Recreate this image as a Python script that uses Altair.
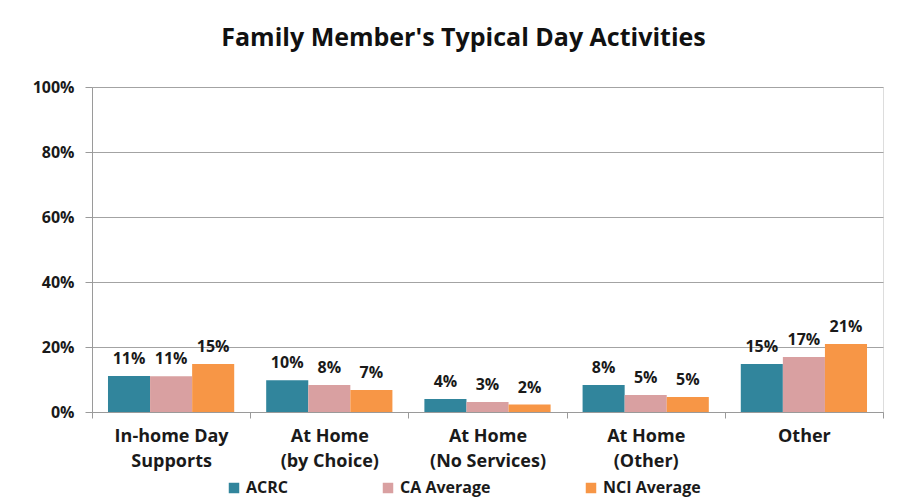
import altair as alt
import pandas as pd

categories = ["In-home Day\nSupports", "At Home\n(by Choice)", "At Home\n(No Services)", "At Home\n(Other)", "Other"]
series = ["ACRC", "CA Average", "NCI Average"]
acrc = [0.111, 0.098, 0.040, 0.083, 0.148]
ca_avg = [0.110, 0.083, 0.031, 0.052, 0.169]
nci_avg = [0.148, 0.068, 0.023, 0.046, 0.209]
colors = ["#31859C", "#D9A0A1", "#F79646"]

rows = []
for s, vals in zip(series, [acrc, ca_avg, nci_avg]):
    for c, v in zip(categories, vals):
        rows.append({"category": c, "series": s, "value": v})
df = pd.DataFrame(rows)

FONT = "Open Sans"

x = alt.X("category:N", sort=categories, title=None,
          scale=alt.Scale(paddingInner=0, paddingOuter=0),
          axis=alt.Axis(labelExpr="split(datum.label, '\\n')", labelAngle=0,
                        labelFont=FONT, labelFontWeight="bold", labelFontSize=18,
                        labelColor="#1a1a1a", labelLineHeight=25, labelPadding=9,
                        tickBand="extent", tickSize=6, tickColor="#9a9a9a",
                        domainColor="#9a9a9a", labelBaseline="top"))
xo = alt.XOffset("series:N", sort=series, scale=alt.Scale(paddingInner=0, paddingOuter=0.38))
y = alt.Y("value:Q", title=None,
          scale=alt.Scale(domain=[0, 1]),
          axis=alt.Axis(values=[0, 0.2, 0.4, 0.6, 0.8, 1.0], format=".0%",
                        labelFont=FONT, labelFontWeight="bold", labelFontSize=16,
                        labelColor="#1a1a1a", tickSize=7, tickColor="#9a9a9a",
                        labelPadding=11, gridColor="#a3a3a3", domainColor="#9a9a9a"))

base = alt.Chart(df)
bars = base.mark_bar().encode(
    x=x, xOffset=xo, y=y,
    color=alt.Color("series:N", sort=series, title=None,
                    scale=alt.Scale(domain=series, range=colors),
                    legend=alt.Legend(orient="none", legendX=134, legendY=393,
                                      direction="horizontal", symbolType="square",
                                      symbolSize=110, symbolStrokeWidth=0,
                                      labelFont=FONT, labelFontWeight="bold",
                                      labelFontSize=16, labelColor="#1a1a1a",
                                      columnPadding=92, symbolOpacity=1)),
)
labels = base.mark_text(dy=-9, baseline="bottom", font=FONT, fontWeight="bold",
                        fontSize=16, color="#1a1a1a").encode(
    x=x, xOffset=xo, y=y,
    text=alt.Text("value:Q", format=".0%"),
)

chart = alt.layer(bars, labels).properties(
    width=791, height=325,
    title=alt.TitleParams("Family Member's Typical Day Activities", font=FONT,
                          fontSize=25, fontWeight="bold", color="#111111",
                          anchor="middle", dx=-24, offset=28),
    autosize=alt.AutoSizeParams(type="none"),
    padding={"left": 84, "top": 79, "right": 8, "bottom": 86},
).configure_view(fill="#EBEBEB", stroke=None).configure(background="white")

chart.save("out.html", embed_options={"renderer": "svg", "actions": False})
